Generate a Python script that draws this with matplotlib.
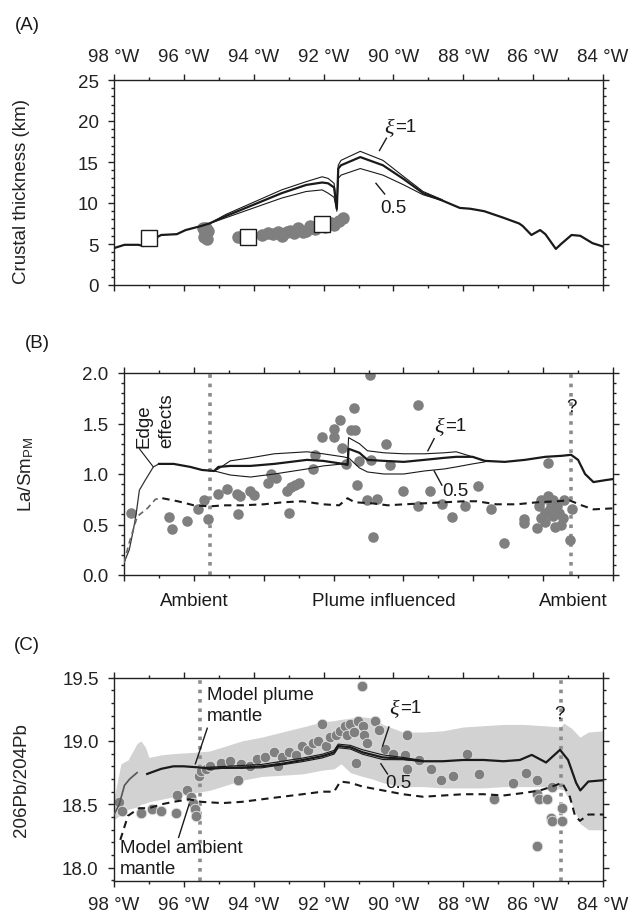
import matplotlib
matplotlib.use('Agg')
import matplotlib.pyplot as plt
from matplotlib.ticker import MultipleLocator, FuncFormatter, FormatStrFormatter

plt.rcParams['font.family'] = ['Liberation Sans', 'DejaVu Sans']
plt.rcParams['mathtext.fontset'] = 'custom'
plt.rcParams['mathtext.rm'] = 'Liberation Sans'
plt.rcParams['mathtext.sf'] = 'Liberation Sans'
plt.rcParams['mathtext.it'] = 'Liberation Serif:italic'
plt.rcParams['mathtext.bf'] = 'Liberation Sans:bold'

# ---------------- Panel A data: crustal thickness (km) ----------------
A_mid_lon = [-98.0, -97.7, -97.3, -97.15, -97.0, -96.65, -96.2, -95.95, -95.5, -95.27,
             -94.8, -94.0, -93.2, -92.5, -92.04, -91.87, -91.7, -91.62, -91.58, -91.5,
             -90.95, -90.3, -89.7, -89.15, -88.6, -88.1, -87.8, -87.4, -86.85, -86.4,
             -86.3, -86.05, -85.8, -85.65, -85.35, -85.2, -84.9, -84.65, -84.3, -84.0]
A_mid_val = [4.5, 4.9, 4.9, 4.75, 5.3, 6.1, 6.2, 6.7, 7.2, 7.5,
             8.4, 9.8, 11.2, 12.2, 12.5, 12.4, 11.9, 9.3, 14.2, 14.6,
             15.6, 14.6, 12.9, 11.2, 10.3, 9.4, 9.3, 9.0, 8.2, 7.5,
             7.2, 6.1, 6.7, 6.2, 4.4, 5.0, 6.1, 6.0, 5.1, 4.7]
A_plume_lon = [-95.27, -94.8, -94.0, -93.2, -92.5, -92.04, -91.87, -91.7, -91.62, -91.58,
               -91.5, -90.95, -90.3, -89.7, -89.15, -88.6]
A_xi1_val = [7.5, 8.6, 10.1, 11.6, 12.6, 13.2, 13.0, 12.4, 9.6, 14.6,
             15.2, 16.3, 15.2, 13.2, 11.4, 10.4]
A_xi05_val = [7.5, 8.2, 9.4, 10.6, 11.4, 11.6, 11.2, 10.7, 9.0, 13.0,
              13.4, 14.2, 13.4, 12.2, 11.0, 10.3]
A_dots_lon = [-95.45, -95.4, -95.35, -95.42, -95.3, -95.38, -94.45, -94.35, -93.77, -93.6,
              -93.45, -93.3, -93.2, -93.05, -92.96, -92.85, -92.73, -92.6, -92.5, -92.4,
              -92.25, -92.1, -91.95, -91.8, -91.7, -91.55, -91.45]
A_dots_val = [6.9, 6.3, 5.6, 5.9, 6.6, 7.0, 5.9, 5.9, 6.1, 6.4,
              6.2, 6.5, 6.0, 6.5, 6.6, 6.3, 7.0, 6.5, 6.6, 7.2,
              6.8, 7.4, 7.1, 7.6, 7.3, 7.8, 8.2]
A_sq_lon = [-97.0, -94.17, -92.04]
A_sq_val = [5.7, 5.9, 7.5]

# ---------------- Panel B data: La/Sm_PM ----------------
B_edge_lon = [-98.0, -97.85, -97.73, -97.65, -97.56, -97.39, -97.16, -97.0]
B_edge_val = [0.12, 0.25, 0.45, 0.61, 0.84, 0.94, 1.07, 1.10]
B_edge_dash_lon = [-98.0, -97.85, -97.62, -97.33, -97.1, -96.9]
B_edge_dash_val = [0.12, 0.32, 0.58, 0.66, 0.75, 0.76]
B_mid_lon = [-97.0, -96.58, -96.1, -95.77, -95.42, -95.3, -94.96, -94.38, -93.7, -92.76,
             -92.3, -91.72, -91.6, -91.57, -91.26, -91.03, -90.56, -89.99, -89.4, -88.83,
             -88.49, -88.02, -87.67, -87.1, -86.52, -85.94, -85.47, -85.2, -85.0, -84.8,
             -84.56, -84.2, -84.0]
B_mid_val = [1.10, 1.10, 1.07, 1.04, 1.03, 1.07, 1.08, 1.08, 1.10, 1.14,
             1.13, 1.10, 1.09, 1.25, 1.21, 1.14, 1.13, 1.12, 1.14, 1.16,
             1.17, 1.17, 1.13, 1.12, 1.14, 1.17, 1.18, 1.19, 1.14, 1.00,
             0.92, 0.94, 0.95]
B_plume_lon = [-95.42, -95.3, -94.96, -94.38, -93.7, -92.76, -92.3, -91.72, -91.6, -91.57,
               -91.26, -91.03, -90.56, -89.99, -89.4, -88.83, -88.49, -88.02, -87.67]
B_xi1_val = [1.03, 1.05, 1.13, 1.16, 1.20, 1.22, 1.20, 1.17, 1.16, 1.36,
             1.30, 1.23, 1.21, 1.20, 1.20, 1.21, 1.22, 1.17, 1.13]
B_xi05_val = [1.03, 1.02, 0.99, 0.97, 1.00, 1.05, 1.08, 1.10, 1.10, 1.16,
              1.06, 1.02, 1.00, 1.00, 1.03, 1.05, 1.07, 1.10, 1.12]
B_amb_lon = [-96.9, -96.46, -96.0, -95.54, -95.1, -94.6, -94.0, -93.45, -92.9, -92.3,
             -91.84, -91.6, -91.4, -90.9, -90.45, -89.98, -89.4, -88.83, -88.25, -87.9,
             -87.34, -86.75, -86.17, -85.6, -85.25, -84.9, -84.56, -84.0]
B_amb_val = [0.76, 0.73, 0.69, 0.68, 0.69, 0.69, 0.70, 0.72, 0.73, 0.70,
             0.69, 0.76, 0.72, 0.71, 0.69, 0.70, 0.71, 0.72, 0.73, 0.73,
             0.70, 0.70, 0.72, 0.73, 0.74, 0.69, 0.65, 0.66]
B_dots_lon = [-97.79, -96.72, -96.64, -96.2, -95.88, -95.71, -95.6, -95.3, -95.05, -94.76,
              -94.67, -94.75, -94.38, -94.27, -93.88, -93.78, -93.65, -93.34, -93.28, -93.23,
              -93.1, -93.0, -92.6, -92.53, -92.34, -92.0, -91.98, -91.82, -91.76, -91.64,
              -91.49, -91.41, -91.38, -91.32, -91.28, -91.03, -90.97, -90.94, -90.86, -90.77,
              -90.51, -90.39, -90.01, -89.58, -89.58, -89.24, -88.91, -88.6, -88.25, -87.87,
              -87.5, -87.12, -86.54, -86.54, -86.17, -86.11, -86.05, -85.94, -85.86, -85.85,
              -85.8, -85.77, -85.71, -85.65, -85.6, -85.54, -85.49, -85.43, -85.71, -85.41,
              -85.17, -85.23, -86.05, -85.94]
B_dots_val = [0.61, 0.57, 0.46, 0.53, 0.65, 0.74, 0.55, 0.80, 0.85, 0.80,
              0.78, 0.60, 0.83, 0.79, 0.91, 1.00, 0.96, 0.83, 0.61, 0.87,
              0.89, 0.91, 1.05, 1.19, 1.37, 1.37, 1.45, 1.53, 1.26, 1.10,
              1.44, 1.65, 1.44, 0.89, 1.13, 0.74, 1.98, 1.14, 0.38, 0.75,
              1.30, 1.09, 0.83, 0.68, 1.68, 0.83, 0.70, 0.57, 0.68, 0.88,
              0.65, 0.32, 0.55, 0.51, 0.47, 0.68, 0.56, 0.52, 1.11, 0.78,
              0.65, 0.71, 0.58, 0.48, 0.68, 0.61, 0.50, 0.56, 0.74, 0.74,
              0.65, 0.35, 0.74, 0.61]
B_categories = ['Ambient', 'Plume influenced', 'Ambient']
B_category_lon = [-96.0, -90.57, -85.13]

# ---------------- Panel C data: 206Pb/204Pb ----------------
C_band_lon = [-98.0, -97.8, -97.6, -97.34, -97.23, -97.1, -97.0, -96.65, -96.3, -95.73,
              -95.27, -94.8, -94.34, -93.77, -93.19, -92.6, -92.04, -91.7, -91.5, -91.23,
              -90.88, -90.6, -90.3, -89.73, -89.15, -88.58, -88.0, -87.42, -86.85, -86.27,
              -85.7, -85.23, -85.12, -84.9, -84.66, -84.42, -84.0]
C_band_hi = [18.55, 18.82, 18.85, 18.98, 19.0, 18.95, 18.87, 18.89, 18.9, 18.91,
             18.92, 18.96, 19.0, 19.03, 19.07, 19.11, 19.15, 19.16, 19.17, 19.18,
             19.19, 19.18, 19.13, 19.07, 19.07, 19.08, 19.11, 19.12, 19.13, 19.13,
             19.12, 19.11, 19.14, 19.10, 19.03, 19.07, 19.08]
C_band_lo = [18.38, 18.42, 18.46, 18.48, 18.5, 18.51, 18.52, 18.54, 18.56, 18.59,
             18.61, 18.65, 18.69, 18.72, 18.73, 18.74, 18.77, 18.78, 18.82, 18.75,
             18.72, 18.7, 18.67, 18.64, 18.64, 18.63, 18.63, 18.63, 18.64, 18.64,
             18.64, 18.62, 18.61, 18.51, 18.35, 18.3, 18.3]
C_edge_lon = [-98.0, -97.85, -97.7, -97.55, -97.34]
C_edge_val = [18.42, 18.50, 18.65, 18.70, 18.75]
C_mid_lon = [-97.05, -96.65, -96.3, -96.0, -95.5, -95.27, -94.8, -94.34, -93.77, -93.19,
             -92.6, -92.04, -91.7, -91.58, -91.23, -90.88, -90.3, -89.73, -89.15, -88.58,
             -88.0, -87.42, -86.85, -86.38, -86.04, -85.63, -85.23, -85.0, -84.77, -84.65,
             -84.42, -84.0]
C_mid_val = [18.74, 18.78, 18.80, 18.80, 18.79, 18.78, 18.79, 18.79, 18.80, 18.82,
             18.85, 18.88, 18.91, 18.96, 18.95, 18.91, 18.87, 18.86, 18.84, 18.84,
             18.85, 18.85, 18.84, 18.85, 18.89, 18.83, 18.93, 18.85, 18.67, 18.61,
             18.68, 18.69]
C_plume_lon = [-95.5, -94.8, -93.77, -92.6, -92.04, -91.7, -91.58, -91.23, -90.88, -90.3,
               -89.73, -89.15]
C_xi1_val = [18.79, 18.80, 18.815, 18.865, 18.895, 18.925, 18.975, 18.965, 18.93, 18.89,
             18.87, 18.845]
C_xi05_val = [18.79, 18.783, 18.788, 18.837, 18.866, 18.896, 18.946, 18.936, 18.895, 18.853,
              18.852, 18.838]
C_amb_lon = [-97.82, -97.6, -97.28, -97.0, -96.65, -96.3, -95.85, -95.5, -94.9, -94.34,
             -93.77, -93.19, -92.6, -92.04, -91.7, -91.52, -91.23, -90.88, -90.3, -89.73,
             -89.15, -88.58, -88.0, -87.42, -86.85, -86.27, -85.8, -85.46, -85.17, -84.95,
             -84.8, -84.66, -84.42, -84.0]
C_amb_val = [18.22, 18.41, 18.47, 18.47, 18.50, 18.52, 18.54, 18.52, 18.51, 18.52,
             18.54, 18.56, 18.58, 18.60, 18.60, 18.68, 18.67, 18.64, 18.61, 18.58,
             18.56, 18.57, 18.58, 18.58, 18.57, 18.59, 18.61, 18.64, 18.67, 18.56,
             18.41, 18.37, 18.42, 18.42]
C_dots_lon = [-97.85, -97.78, -97.23, -96.9, -96.65, -96.22, -96.21, -95.9, -95.79, -95.73,
              -95.68, -95.64, -95.57, -95.5, -95.38, -95.24, -94.94, -94.69, -94.46, -94.37,
              -94.11, -93.92, -93.69, -93.42, -93.31, -93.19, -92.98, -92.8, -92.61, -92.45,
              -92.29, -92.15, -92.04, -91.92, -91.81, -91.63, -91.52, -91.4, -91.32, -91.23,
              -91.14, -91.08, -91.02, -90.91, -90.88, -90.83, -90.77, -90.54, -90.42, -90.25,
              -90.02, -89.67, -89.62, -89.62, -89.27, -88.92, -88.63, -88.29, -87.88, -87.54,
              -87.13, -86.59, -86.21, -85.9, -85.9, -85.84, -85.9, -85.49, -85.47, -85.59,
              -85.47, -85.17, -85.17]
C_dots_val = [18.52, 18.45, 18.43, 18.46, 18.45, 18.43, 18.57, 18.61, 18.56, 18.51,
              18.46, 18.41, 18.72, 18.76, 18.78, 18.80, 18.83, 18.84, 18.69, 18.82,
              18.80, 18.86, 18.87, 18.91, 18.80, 18.87, 18.91, 18.89, 18.96, 18.93,
              18.98, 19.00, 19.13, 18.96, 19.03, 19.05, 19.08, 19.12, 19.05, 19.13,
              19.07, 18.83, 19.16, 19.43, 19.12, 19.05, 18.98, 19.16, 19.09, 18.94,
              18.90, 18.89, 19.05, 18.78, 18.85, 18.78, 18.69, 18.72, 18.90, 18.74,
              18.54, 18.67, 18.75, 18.69, 18.58, 18.54, 18.17, 18.39, 18.37, 18.54,
              18.64, 18.47, 18.37]

boundary_lon = [-95.55, -85.2]

# ---------------- figure ----------------
FS = 13.5
fig = plt.figure(figsize=(6.3, 9.2), dpi=100)
axA = fig.add_axes([114/630, 1-286/920, 489/630, 205/920])
axB = fig.add_axes([124/630, 1-576/920, 489/630, 202/920])
axC = fig.add_axes([114/630, 1-881.5/920, 489/630, 203/920])

lonfmt = FuncFormatter(lambda v, p: f"{int(round(-v))} \u00b0W")

def style(ax):
    ax.set_xlim(-98, -84)
    ax.xaxis.set_major_locator(MultipleLocator(2))
    ax.xaxis.set_minor_locator(MultipleLocator(1))
    ax.tick_params(which='both', direction='out', top=True, right=True, bottom=True,
                   left=True, width=1.0, colors='#222222', labelsize=FS, labelcolor='#222222')
    ax.tick_params(which='major', length=4.5, pad=6.5)
    ax.tick_params(which='minor', length=2.4)
    for s in ax.spines.values():
        s.set_linewidth(1.0)
        s.set_color('#222222')

def xi_label(ax, x, y, txt):
    # italic xi slightly larger than the "=1" part, joined at x
    ax.text(x, y, r'$\xi$', fontsize=FS + 2.5, ha='right', va='center', color=K)
    ax.text(x, y, txt, fontsize=FS, ha='left', va='center', color=K)

DOT = '#7f7f7f'
K = '#1a1a1a'
DOTTED = '#8c8c8c'

# ----- A -----
style(axA)
axA.set_ylim(0, 25)
axA.yaxis.set_major_locator(MultipleLocator(5))
axA.yaxis.set_minor_locator(MultipleLocator(1))
axA.tick_params(labeltop=True, labelbottom=False)
axA.xaxis.set_major_formatter(lonfmt)
axA.plot(A_dots_lon, A_dots_val, 'o', color=DOT, ms=9, mec='none', zorder=2)
axA.plot(A_plume_lon, A_xi1_val, color=K, lw=0.8, zorder=3)
axA.plot(A_plume_lon, A_xi05_val, color=K, lw=0.8, zorder=3)
axA.plot(A_mid_lon, A_mid_val, color=K, lw=1.6, zorder=3)
axA.plot(A_sq_lon, A_sq_val, 's', ms=11, mfc='white', mec=K, mew=1.0, zorder=4)
xi_label(axA, -89.95, 19.3, '=1')
axA.plot([-90.2, -90.4], [17.9, 16.4], color=K, lw=1.0)
axA.text(-90.0, 9.4, '0.5', fontsize=FS, ha='center', va='center', color=K)
axA.plot([-90.5, -90.25], [12.4, 11.1], color=K, lw=1.0)
axA.set_ylabel('Crustal thickness (km)', fontsize=FS, color='#222222')
axA.yaxis.set_label_coords(-0.172, 0.46)

# ----- B -----
style(axB)
axB.set_ylim(0, 2)
axB.yaxis.set_major_locator(MultipleLocator(0.5))
axB.yaxis.set_minor_locator(MultipleLocator(0.1))
axB.yaxis.set_major_formatter(FormatStrFormatter('%.1f'))
axB.tick_params(labelbottom=False)
for bl in boundary_lon:
    axB.plot([bl, bl], [0, 2], color=DOTTED, lw=2.6, ls=(0, (1, 1.6)),
             dash_capstyle='butt', zorder=1)
axB.plot(B_dots_lon, B_dots_val, 'o', color=DOT, ms=7.6, mec='none', zorder=2)
axB.plot(B_edge_lon, B_edge_val, color='#333333', lw=0.9, zorder=3)
axB.plot(B_edge_dash_lon, B_edge_dash_val, color='#666666', lw=1.2, ls=(0, (3.5, 2.5)), zorder=3)
axB.plot(B_amb_lon, B_amb_val, color=K, lw=1.5, ls=(0, (3.5, 2.5)), zorder=3)
axB.plot(B_plume_lon, B_xi1_val, color=K, lw=0.8, zorder=3)
axB.plot(B_plume_lon, B_xi05_val, color=K, lw=0.8, zorder=3)
axB.plot(B_mid_lon, B_mid_val, color=K, lw=1.6, zorder=3)
axB.text(-97.42, 1.27, 'Edge', rotation=90, fontsize=FS, ha='center', va='bottom', color=K)
axB.text(-96.78, 1.27, 'effects', rotation=90, fontsize=FS, ha='center', va='bottom', color=K)
axB.plot([-97.56, -97.16], [1.25, 1.07], color=K, lw=0.8)
xi_label(axB, -88.8, 1.48, '=1')
axB.plot([-89.12, -89.3], [1.35, 1.23], color=K, lw=1.0)
axB.text(-88.5, 0.84, '0.5', fontsize=FS, ha='center', va='center', color=K)
axB.plot([-89.12, -88.9], [1.03, 0.89], color=K, lw=1.0)
axB.text(-85.19, 1.67, '?', fontsize=FS, ha='center', va='center', color=K)
for lab, lon in zip(B_categories, B_category_lon):
    axB.text(lon, -0.124, lab, transform=axB.get_xaxis_transform(), fontsize=FS,
             ha='center', va='center', color=K)
axB.set_ylabel(r'La/Sm$_{\mathrm{PM}}$', fontsize=FS, color='#222222')
axB.yaxis.set_label_coords(-0.18, 0.5)

# ----- C -----
style(axC)
axC.set_ylim(17.9, 19.5)
axC.yaxis.set_major_locator(MultipleLocator(0.5))
axC.yaxis.set_minor_locator(MultipleLocator(0.1))
axC.yaxis.set_major_formatter(FormatStrFormatter('%.1f'))
axC.xaxis.set_major_formatter(lonfmt)
axC.fill_between(C_band_lon, C_band_lo, C_band_hi, color='#d2d2d2', lw=0, zorder=0)
for bl in boundary_lon:
    axC.plot([bl, bl], [17.9, 19.5], color=DOTTED, lw=2.6, ls=(0, (1, 1.6)),
             dash_capstyle='butt', zorder=1)
axC.plot(C_dots_lon, C_dots_val, 'o', color=DOT, ms=7.6, mec='#e6e6e6', mew=0.6, zorder=2)
axC.plot(C_edge_lon, C_edge_val, color='#555555', lw=1.2, zorder=3)
axC.plot(C_amb_lon, C_amb_val, color=K, lw=1.5, ls=(0, (3.5, 2.5)), zorder=3)
axC.plot(C_plume_lon, C_xi1_val, color=K, lw=0.8, zorder=3)
axC.plot(C_plume_lon, C_xi05_val, color=K, lw=0.8, zorder=3)
axC.plot(C_mid_lon, C_mid_val, color=K, lw=1.6, zorder=3)
axC.text(-95.35, 19.28, 'Model plume\nmantle', fontsize=FS, ha='left', va='center',
         linespacing=1.3, color=K)
axC.plot([-95.33, -95.67], [19.1, 18.82], color=K, lw=1.0)
axC.text(-97.82, 18.075, 'Model ambient\nmantle', fontsize=FS, ha='left', va='center',
         linespacing=1.3, color=K)
axC.plot([-95.85, -96.15], [18.5, 18.24], color=K, lw=1.0)
xi_label(axC, -89.8, 19.26, '=1')
axC.plot([-90.13, -90.31], [19.11, 18.96], color=K, lw=1.0)
axC.text(-89.85, 18.67, '0.5', fontsize=FS, ha='center', va='center', color=K)
axC.plot([-90.36, -90.17], [18.82, 18.74], color=K, lw=1.0)
axC.text(-85.25, 19.22, '?', fontsize=FS, ha='center', va='center', color=K)
axC.set_ylabel('206Pb/204Pb', fontsize=FS, color='#222222')
axC.yaxis.set_label_coords(-0.172, 0.5)

# panel labels
fig.text(27/630, 1-25/920, '(A)', fontsize=FS, ha='center', va='center', color=K)
fig.text(37/630, 1-343/920, '(B)', fontsize=FS, ha='center', va='center', color=K)
fig.text(27/630, 1-645/920, '(C)', fontsize=FS, ha='center', va='center', color=K)

fig.savefig('out.png', dpi=100)
